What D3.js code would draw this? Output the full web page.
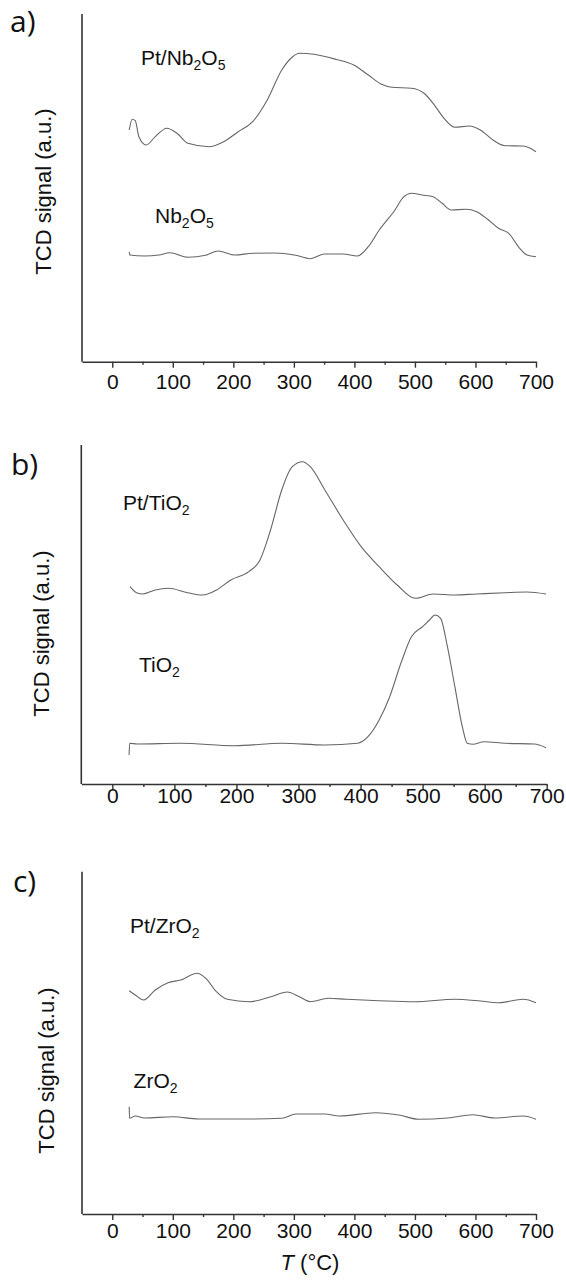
<!DOCTYPE html>
<html>
<head>
<meta charset="utf-8">
<script src="https://cdn.jsdelivr.net/npm/d3@7/dist/d3.min.js"></script>
<style>
  html, body { margin: 0; padding: 0; background: #fff; }
  svg { display: block; }
</style>
</head>
<body>
<svg id="chart" width="566" height="1283"></svg>
<script>
// ---------------- DATA ----------------
const xTickValues = [0, 100, 200, 300, 400, 500, 600, 700];
const xMinorTickValues = [50, 150, 250, 350, 450, 550, 650];
const xDomain = [-50, 700];

// Panel a
const ptNb2O5_T = [28, 33, 38, 44, 56, 71, 90, 107, 125, 160, 184, 208, 232, 256, 280, 298, 309, 333, 369, 399, 423, 444, 462, 494, 515, 530, 548, 566, 590, 608, 629, 649, 679, 700];
const ptNb2O5_v = [231.7, 242.4, 241, 225, 216.7, 225, 233.4, 228.4, 218.4, 215, 220, 230, 240, 261.7, 291.7, 305, 308.4, 307.4, 302.4, 296.7, 286.7, 277.7, 274.4, 273.4, 268.4, 258.4, 243.4, 234.4, 235.7, 231.7, 221.7, 216, 215.7, 210];
const nb2O5_T = [28, 29, 53, 77, 95, 125, 154, 175, 202, 232, 268, 303, 327, 351, 381, 405, 423, 441, 465, 482, 494, 512, 530, 545, 560, 584, 602, 620, 638, 655, 673, 685, 700];
const nb2O5_v = [110, 106.7, 105.7, 106.7, 109, 104.4, 106.4, 110.7, 106.7, 108.4, 108.7, 106.4, 103, 107.7, 107.7, 105.7, 115, 131.7, 150, 165, 168.4, 166.7, 165, 158.4, 151.7, 152.4, 150, 142.4, 133.4, 128.4, 113.4, 106.7, 105];

// Panel b
const ptTiO2_T = [28.5, 39, 49, 69, 90, 121.5, 145, 168, 191, 220, 238, 255, 273, 290, 306.5, 319, 342.5, 372, 401, 430, 459, 488, 517, 552, 587, 633, 668, 699];
const ptTiO2_v = [197.3, 191.3, 190, 194, 195.7, 191.3, 189, 194, 204, 212.3, 224, 254, 294, 317.3, 322.3, 317.3, 294, 264, 237.3, 217.3, 199, 185.7, 190, 189, 190, 191.3, 192, 190];
const tiO2_T = [27, 28, 40, 110, 197, 273, 342.5, 395, 412, 430, 447, 465, 482, 500, 511, 520, 529, 540, 552, 564, 572, 581, 599, 633, 680, 699];
const tiO2_v = [29, 40.7, 40, 40.7, 38.3, 40.7, 39, 40.7, 47.3, 64, 87.3, 120.7, 147.3, 157.3, 164, 169, 165.7, 137.3, 97.3, 57.3, 40.7, 39.7, 42.3, 40.7, 40, 36.3];

// Panel c
const ptZrO2_T = [28, 38, 52, 71, 92, 113, 140, 154.5, 172, 190, 226, 262, 289, 309, 327, 357, 387, 441, 500, 566, 608, 638, 679, 700];
const ptZrO2_v = [223.3, 219, 214, 224, 231.3, 234, 240.7, 235.7, 222.3, 214.7, 212.3, 217.3, 222, 217.3, 212.3, 215.7, 214.7, 213.3, 212.3, 214.7, 213, 211.3, 214.7, 211.3];
const zrO2_T = [28, 28.5, 38, 53, 101, 142.5, 232, 280, 303.5, 351, 375, 435, 476, 506, 554, 596, 632, 679, 700];
const zrO2_v = [107.3, 95.7, 98, 96, 97.3, 95, 95, 95.7, 100, 100, 98, 101.3, 98.7, 94.7, 96, 99.3, 96, 98, 94.7];

const panelLetters = ["a)", "b)", "c)"];
const seriesNames = [["Pt/Nb", "2", "O", "5"], ["Nb", "2", "O", "5"], ["Pt/TiO", "2"], ["TiO", "2"], ["Pt/ZrO", "2"], ["ZrO", "2"]];
const yAxisTitle = "TCD signal (a.u.)";
const xAxisTitleItalic = "T";
const xAxisTitleRest = " (°C)";

// ---------------- LAYOUT ----------------
const layout = [
  { letter: 0, letterX: 10, letterY: 32, top: 14, axisY: 361.7, x0: 82.0, x1: 536.0, ylabX: 50.5, ylabY: 191.5, tickBase: 389,
    series: [ { T: ptNb2O5_T, v: ptNb2O5_v, name: 0, lx: 141, ly: 65 }, { T: nb2O5_T, v: nb2O5_v, name: 1, lx: 155, ly: 223.3 } ] },
  { letter: 1, letterX: 11, letterY: 475, top: 445, axisY: 784, x0: 81.3, x1: 546.7, ylabX: 48.7, ylabY: 633.5, tickBase: 803,
    series: [ { T: ptTiO2_T, v: ptTiO2_v, name: 2, lx: 123, ly: 510 }, { T: tiO2_T, v: tiO2_v, name: 3, lx: 139, ly: 671.7 } ] },
  { letter: 2, letterX: 13, letterY: 892, top: 871.7, axisY: 1214, x0: 82.0, x1: 536.0, ylabX: 54, ylabY: 1070.5, tickBase: 1238,
    series: [ { T: ptZrO2_T, v: ptZrO2_v, name: 4, lx: 130, ly: 933.3 }, { T: zrO2_T, v: zrO2_v, name: 5, lx: 133.6, ly: 1088.3 } ] }
];

const axisColor = "#333";
const lineColor = "#666";
const sansFont = "'Liberation Sans', Arial, Helvetica, sans-serif";

const svg = d3.select("#chart");

layout.forEach(p => {
  const g = svg.append("g");
  const x = d3.scaleLinear().domain(xDomain).range([p.x0, p.x1]);
  const y = d3.scaleLinear().domain([0, p.axisY - p.top]).range([p.axisY, p.top]);

  // Y axis line (no ticks)
  g.append("line")
    .attr("x1", x(xDomain[0])).attr("x2", x(xDomain[0]))
    .attr("y1", y(0)).attr("y2", y.range()[1])
    .attr("stroke", axisColor).attr("stroke-width", 1.6);

  // X axis: major ticks
  const xAxis = d3.axisBottom(x).tickValues(xTickValues).tickSize(6).tickSizeOuter(0).tickPadding(4).tickFormat(d3.format("d"));
  const ax = g.append("g").attr("transform", `translate(0,${p.axisY})`).call(xAxis);
  ax.select(".domain").attr("stroke", axisColor).attr("stroke-width", 1.6);
  ax.selectAll(".tick line").attr("stroke", axisColor).attr("stroke-width", 1.4);
  ax.selectAll(".tick text")
    .attr("font-family", sansFont).attr("font-size", 21).attr("fill", "#111")
    .attr("dy", null).attr("y", p.tickBase - p.axisY);

  // minor ticks
  const axMinor = d3.axisBottom(x).tickValues(xMinorTickValues).tickSize(3).tickSizeOuter(0).tickFormat("");
  const am = g.append("g").attr("transform", `translate(0,${p.axisY})`).call(axMinor);
  am.select(".domain").remove();
  am.selectAll(".tick line").attr("stroke", axisColor).attr("stroke-width", 1.4);

  // Y axis title
  g.append("text")
    .attr("transform", `translate(${p.ylabX},${p.ylabY}) rotate(-90)`)
    .attr("text-anchor", "middle")
    .attr("font-family", sansFont).attr("font-size", 22).attr("fill", "#111")
    .text(yAxisTitle);

  // Panel letter
  g.append("text")
    .attr("x", p.letterX).attr("y", p.letterY)
    .attr("font-family", "'Open Sans', sans-serif").attr("font-size", 30).attr("fill", "#111")
    .text(panelLetters[p.letter]);

  // curves
  const line = d3.line().x(d => x(d[0])).y(d => y(d[1])).curve(d3.curveMonotoneX);
  p.series.forEach(s => {
    const pts = s.T.map((t, i) => [t, s.v[i]]);
    g.append("path").datum(pts)
      .attr("d", line)
      .attr("fill", "none").attr("stroke", lineColor).attr("stroke-width", 1.1);

    const parts = seriesNames[s.name];
    const t = g.append("text").attr("x", s.lx).attr("y", s.ly)
      .attr("font-family", sansFont).attr("font-size", 21).attr("fill", "#111");
    parts.forEach((part, i) => {
      const isSub = i % 2 === 1;
      t.append("tspan")
        .attr("font-size", isSub ? 14 : 21)
        .attr("dy", isSub ? 5 : (i === 0 ? 0 : -5))
        .text(part);
    });
  });
});

// X axis title (bottom)
const xt = svg.append("text")
  .attr("x", 310).attr("y", 1270)
  .attr("text-anchor", "middle")
  .attr("font-family", sansFont).attr("font-size", 22).attr("fill", "#111");
xt.append("tspan").attr("font-style", "italic").text(xAxisTitleItalic);
xt.append("tspan").text(xAxisTitleRest);
</script>
</body>
</html>
